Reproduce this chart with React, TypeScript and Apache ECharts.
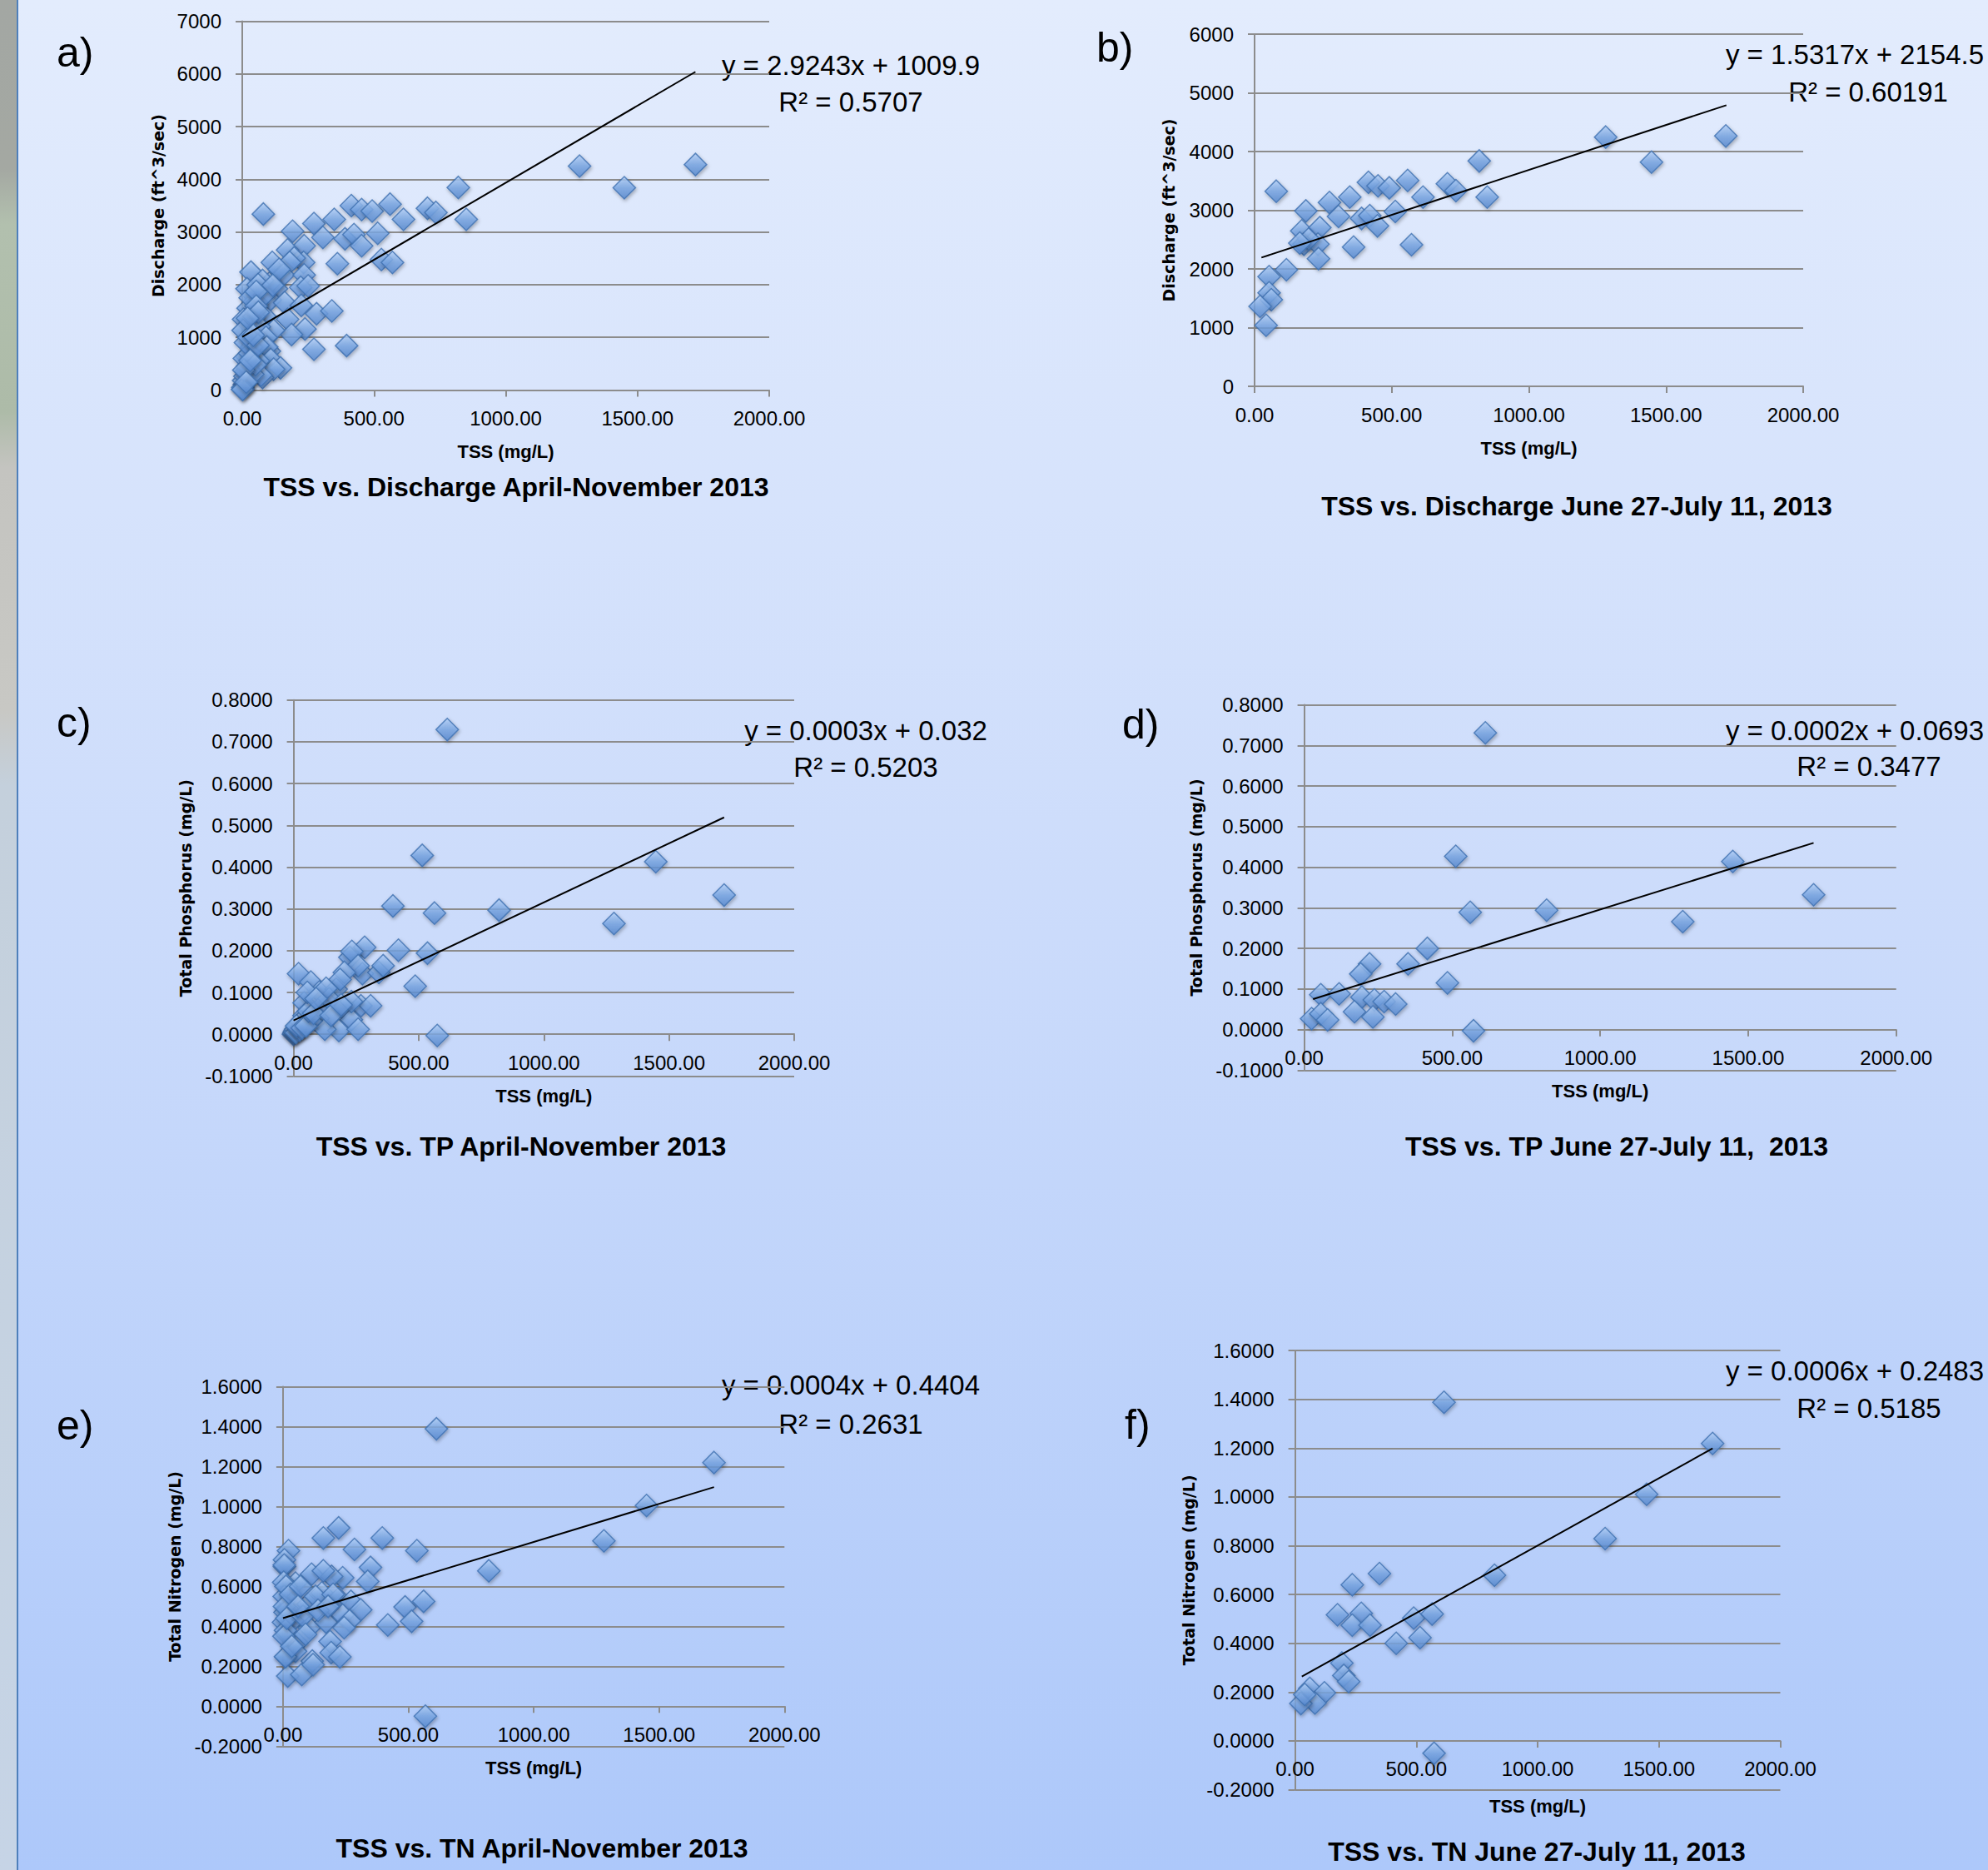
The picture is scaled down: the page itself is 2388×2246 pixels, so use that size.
import React, { useEffect, useRef } from "react";
import * as echarts from "echarts";

const W = 2388;
const H = 2246;

// ---------- data ----------
const xTicks = [0, 500, 1000, 1500, 2000];

const dischargeAll: [number, number][] = [
  [1720, 4280], [1450, 3840], [1280, 4250], [820, 3845], [850, 3240],
  [80, 3340], [414, 3500], [453, 3424], [493, 3397], [561, 3529], [612, 3239], [703, 3450], [735, 3371],
  [272, 3160], [349, 3239], [191, 3013], [306, 2897], [390, 2870], [424, 2950], [453, 2739], [514, 2976],
  [235, 2739], [172, 2660], [361, 2397], [528, 2476], [570, 2423], [233, 2423], [114, 2423], [197, 2506], [180, 2421],
  [33, 2238], [156, 2186], [235, 2186], [18, 1922], [130, 1922], [103, 2028], [222, 1949], [250, 1975], [140, 2291], [77, 2080],
  [106, 1712], [22, 1554], [56, 1659], [161, 1659], [224, 1606], [87, 1396], [172, 1343], [282, 1448], [340, 1501],
  [238, 1159], [187, 1053], [40, 974], [272, 774], [396, 843], [119, 1132], [5, 1343], [3, 1132], [45, 1396], [65, 1200], [90, 1000],
  [18, 632], [103, 737], [93, 816], [108, 579], [145, 421], [119, 395], [77, 237], [8, 105], [61, 553], [35, 816], [71, 280], [21, 405],
  [2, 50], [5, 180], [10, 260], [14, 350], [20, 450], [8, 600], [28, 700], [12, 900], [25, 1000], [40, 300], [50, 480], [60, 850],
  [3, 20], [1, 10], [6, 380], [15, 150], [30, 560], [48, 1500], [30, 1750], [84, 1800], [60, 2000],
  [116, 1986], [53, 1868], [53, 1593], [61, 1475], [20, 1362], [42, 1040],
];

const dischargeJune: [number, number][] = [
  [1280, 4246], [1447, 3820], [1718, 4265], [819, 3839], [848, 3224], [79, 3324], [415, 3475], [450, 3414],
  [491, 3381], [558, 3508], [614, 3224], [703, 3451], [734, 3333], [273, 3130], [347, 3224], [187, 2988],
  [306, 2894], [390, 2860], [420, 2908], [448, 2733], [513, 2979], [172, 2648], [238, 2704], [180, 2421],
  [231, 2421], [233, 2175], [361, 2373], [572, 2411], [116, 1986], [53, 1868], [53, 1593], [61, 1475],
  [20, 1362], [42, 1040], [197, 2506], [165, 2440],
];

const tpAll: [number, number][] = [
  [614, 0.729], [514, 0.428], [1447, 0.413], [1720, 0.333], [1280, 0.265], [821, 0.297], [397, 0.307],
  [563, 0.29], [574, -0.003], [486, 0.115], [419, 0.201], [535, 0.194], [284, 0.208], [225, 0.184],
  [233, 0.198], [275, 0.145], [341, 0.148], [358, 0.164], [258, 0.164], [203, 0.148], [20, 0.145],
  [69, 0.125], [103, 0.101], [170, 0.108], [186, 0.131], [42, 0.075], [114, 0.068], [197, 0.062],
  [269, 0.068], [308, 0.068], [98, 0.038], [231, 0.035], [181, 0.009], [258, 0.012], [125, 0.012],
  [20, 0.019], [0, 0.0], [42, 0.045], [142, 0.085], [231, 0.078], [70, 0.032],
  [1, 0.002], [3, 0.005], [5, 0.008], [8, 0.012], [10, 0.004], [15, 0.018], [25, 0.01], [30, 0.03],
  [12, 0.02], [35, 0.015], [50, 0.02], [60, 0.055], [80, 0.05], [150, 0.045], [190, 0.07], [55, 0.1],
  [130, 0.11], [90, 0.085],
];

const tpJune: [number, number][] = [
  [612, 0.731], [512, 0.427], [561, 0.289], [819, 0.294], [1279, 0.266], [1448, 0.414], [1721, 0.332],
  [416, 0.2], [351, 0.162], [484, 0.115], [572, -0.003], [221, 0.162], [191, 0.137], [56, 0.086],
  [118, 0.088], [195, 0.08], [237, 0.073], [270, 0.069], [309, 0.063], [170, 0.044], [232, 0.031],
  [25, 0.027], [56, 0.039], [79, 0.024],
];

const tnAll: [number, number][] = [
  [612, 1.389], [1719, 1.22], [1450, 1.005], [1280, 0.828], [821, 0.678], [568, -0.05],
  [222, 0.893], [161, 0.842], [396, 0.842], [285, 0.785], [534, 0.779], [22, 0.779], [6, 0.733],
  [349, 0.695], [338, 0.625], [238, 0.643], [194, 0.65], [114, 0.661], [161, 0.678], [50, 0.616], [6, 0.7],
  [155, 0.567], [222, 0.539], [271, 0.525], [310, 0.483], [100, 0.511], [17, 0.49], [39, 0.428], [105, 0.393],
  [172, 0.421], [238, 0.456], [266, 0.428], [244, 0.393], [487, 0.497], [561, 0.525], [513, 0.425], [418, 0.407],
  [17, 0.358], [56, 0.317], [188, 0.324], [192, 0.268], [227, 0.247], [117, 0.226], [12, 0.247], [50, 0.275],
  [19, 0.151], [75, 0.159], [120, 0.208], [10, 0.248], [5, 0.707],
  [3, 0.62], [5, 0.55], [8, 0.47], [2, 0.42], [10, 0.38], [4, 0.35], [6, 0.5], [12, 0.6], [15, 0.44],
  [30, 0.56], [70, 0.6], [80, 0.45], [130, 0.55], [60, 0.5], [140, 0.48], [90, 0.36], [35, 0.3], [200, 0.56], [180, 0.5],
];

const tnJune: [number, number][] = [
  [614, 1.388], [1721, 1.219], [1449, 1.011], [1278, 0.829], [822, 0.679], [348, 0.686], [236, 0.64],
  [175, 0.517], [273, 0.523], [236, 0.474], [309, 0.474], [489, 0.503], [565, 0.52], [515, 0.423],
  [417, 0.4], [193, 0.319], [201, 0.268], [221, 0.243], [61, 0.215], [121, 0.197], [82, 0.155],
  [24, 0.153], [573, -0.051], [40, 0.19],
];

// trendline end points
const trendDischargeAll: [number, number][] = [[0, 1010], [1720, 6040]];
const trendDischargeJune: [number, number][] = [[25, 2193], [1720, 4789]];
const trendTpAll: [number, number][] = [[0, 0.033], [1720, 0.519]];
const trendTpJune: [number, number][] = [[30, 0.075], [1721, 0.46]];
const trendTnAll: [number, number][] = [[0, 0.441], [1719, 1.097]];
const trendTnJune: [number, number][] = [[28, 0.264], [1721, 1.199]];

const letters = ["a)", "b)", "c)", "d)", "e)", "f)"];
const titles = [
  "TSS vs. Discharge April-November 2013",
  "TSS vs. Discharge June 27-July 11, 2013",
  "TSS vs. TP April-November 2013",
  "TSS vs. TP June 27-July 11,  2013",
  "TSS vs. TN April-November 2013",
  "TSS vs. TN June 27-July 11, 2013",
];
const equations = [
  "y = 2.9243x + 1009.9",
  "y = 1.5317x + 2154.5",
  "y = 0.0003x + 0.032",
  "y = 0.0002x + 0.0693",
  "y = 0.0004x + 0.4404",
  "y = 0.0006x + 0.2483",
];
const rSquared = ["R² = 0.5707", "R² = 0.60191", "R² = 0.5203", "R² = 0.3477", "R² = 0.2631", "R² = 0.5185"];
const yNames = [
  "Discharge (ft^3/sec)",
  "Discharge (ft^3/sec)",
  "Total Phosphorus (mg/L)",
  "Total Phosphorus (mg/L)",
  "Total Nitrogen (mg/L)",
  "Total Nitrogen (mg/L)",
];
const xName = "TSS (mg/L)";
const yRanges: [number, number, number, number][] = [
  // min, max, interval, decimals
  [0, 7000, 1000, 0],
  [0, 6000, 1000, 0],
  [-0.1, 0.8, 0.1, 4],
  [-0.1, 0.8, 0.1, 4],
  [-0.2, 1.6, 0.2, 4],
  [-0.2, 1.6, 0.2, 4],
];
const pointSets = [dischargeAll, dischargeJune, tpAll, tpJune, tnAll, tnJune];
const trendSets = [trendDischargeAll, trendDischargeJune, trendTpAll, trendTpJune, trendTnAll, trendTnJune];

// ---------- layout ----------
const grids = [
  { left: 291, top: 25.5, width: 633, height: 443 },
  { left: 1507, top: 41, width: 659, height: 423 },
  { left: 352.6, top: 840.7, width: 601.4, height: 451.7 },
  { left: 1566.6, top: 846.6, width: 711.1, height: 438.8 },
  { left: 339.9, top: 1665.5, width: 602.4, height: 431.8 },
  { left: 1555.6, top: 1622.2, width: 582.9, height: 527.3 },
];
const yNameGaps = [92, 94, 120, 120, 120, 118];
const xNameGaps = [63, 63, 63, 63, 63, 68];
const letterPos = [[68, 63], [1317, 57], [68, 868], [1348, 870], [68, 1712], [1351, 1711]];
const titlePos = [[620, 585], [1894, 608], [626, 1377], [1942, 1377], [651, 2220], [1846, 2224]];
// [x of equation, x of R², y of equation, y of R²]
const eqPos = [
  [1022, 1022, 78, 122],
  [2228, 2244, 65, 110],
  [1040, 1040, 877, 921],
  [2228, 2245, 877, 920],
  [1022, 1022, 1663, 1710],
  [2228, 2245, 1646, 1691],
];

const FONT = "'Liberation Sans', Arial, sans-serif";
const FONT_Y = "'DejaVu Sans', Verdana, sans-serif";
const GRAY = "#8c8c8c";

function buildOption() {
  const lineStyle = { color: GRAY, width: 2 };
  const markerColor = new echarts.graphic.LinearGradient(0, 0, 0, 1, [
    { offset: 0, color: "#b4d1f8" },
    { offset: 0.5, color: "#78a6e4" },
    { offset: 1, color: "#5487cf" },
  ]);

  const grid: any[] = [];
  const xAxis: any[] = [];
  const yAxis: any[] = [];
  const series: any[] = [];
  const graphic: any[] = [];

  graphic.push({
    type: "rect",
    z: -100,
    silent: true,
    shape: { x: 0, y: 0, width: W, height: H },
    style: {
      fill: new echarts.graphic.LinearGradient(0, 0, 0, 1, [
        { offset: 0, color: "#e3ecfd" },
        { offset: 0.5, color: "#cbdbfb" },
        { offset: 1, color: "#adc8fa" },
      ]),
    },
  });
  graphic.push({
    type: "rect",
    z: -99,
    silent: true,
    shape: { x: 0, y: 0, width: 20, height: H },
    style: {
      fill: new echarts.graphic.LinearGradient(0, 0, 0, 1, [
        { offset: 0, color: "#a3a7a3" },
        { offset: 0.09, color: "#a4a8a2" },
        { offset: 0.12, color: "#b2c0ae" },
        { offset: 0.22, color: "#adbba8" },
        { offset: 0.25, color: "#c4c4c0" },
        { offset: 0.38, color: "#c8c8c4" },
        { offset: 0.42, color: "#c4d0dc" },
        { offset: 1, color: "#c6d4e6" },
      ]),
    },
  });
  graphic.push({
    type: "rect",
    z: -98,
    silent: true,
    shape: { x: 20, y: 0, width: 2, height: H },
    style: { fill: "#4f80bb" },
  });

  for (let i = 0; i < 6; i++) {
    const [yMin, yMax, yInt, yDec] = yRanges[i];
    const g = grids[i];
    // move the x axis (line, ticks, labels, name) up to the y = 0 line
    const zeroOffset = -(g.height * (0 - yMin)) / (yMax - yMin);
    grid.push({ ...g, containLabel: false, outerBoundsMode: "none" });
    xAxis.push({
      type: "value",
      gridIndex: i,
      position: "bottom",
      offset: zeroOffset,
      min: xTicks[0],
      max: xTicks[xTicks.length - 1],
      interval: xTicks[1] - xTicks[0],
      name: xName,
      nameLocation: "middle",
      nameGap: xNameGaps[i],
      nameTextStyle: { fontFamily: FONT, fontWeight: "bold", fontSize: 22, color: "#000" },
      axisLine: { show: true, onZero: false, lineStyle },
      axisTick: { show: true, length: 8, lineStyle },
      axisLabel: {
        margin: 22,
        fontFamily: FONT,
        fontSize: 24,
        color: "#000",
        formatter: (v: number) => v.toFixed(2),
      },
      splitLine: { show: false },
    });
    yAxis.push({
      type: "value",
      gridIndex: i,
      min: yMin,
      max: yMax,
      interval: yInt,
      name: yNames[i],
      nameLocation: "middle",
      nameGap: yNameGaps[i],
      nameTextStyle: { fontFamily: FONT_Y, fontWeight: "bold", fontSize: 19, color: "#000" },
      axisLine: { show: true, onZero: false, lineStyle },
      axisTick: { show: true, length: 8, lineStyle },
      axisLabel: {
        margin: 25,
        fontFamily: FONT,
        fontSize: 24,
        color: "#000",
        formatter: (v: number) => v.toFixed(yDec),
      },
      splitLine: { show: true, lineStyle },
    });
    series.push({
      type: "scatter",
      xAxisIndex: i,
      yAxisIndex: i,
      symbol: "diamond",
      symbolSize: 27,
      data: pointSets[i],
      itemStyle: {
        color: markerColor,
        borderColor: "#3f70b0",
        borderWidth: 1.5,
        shadowBlur: 4,
        shadowColor: "rgba(0,0,0,0.35)",
        shadowOffsetX: 1,
        shadowOffsetY: 2,
      },
      z: 2,
    });
    series.push({
      type: "line",
      xAxisIndex: i,
      yAxisIndex: i,
      data: trendSets[i],
      symbol: "none",
      showSymbol: false,
      silent: true,
      lineStyle: { color: "#000", width: 2 },
      z: 3,
    });

    graphic.push({
      type: "text",
      x: letterPos[i][0],
      y: letterPos[i][1],
      silent: true,
      style: { text: letters[i], fontFamily: FONT, fontSize: 50, fill: "#000", align: "left", verticalAlign: "middle" },
    });
    graphic.push({
      type: "text",
      x: titlePos[i][0],
      y: titlePos[i][1],
      silent: true,
      style: { text: titles[i], fontFamily: FONT, fontWeight: "bold", fontSize: 32, fill: "#000", align: "center", verticalAlign: "middle" },
    });
    graphic.push({
      type: "text",
      x: eqPos[i][0],
      y: eqPos[i][2],
      silent: true,
      style: { text: equations[i], fontFamily: FONT, fontSize: 33, fill: "#000", align: "center", verticalAlign: "middle" },
    });
    graphic.push({
      type: "text",
      x: eqPos[i][1],
      y: eqPos[i][3],
      silent: true,
      style: { text: rSquared[i], fontFamily: FONT, fontSize: 33, fill: "#000", align: "center", verticalAlign: "middle" },
    });
  }

  return {
    animation: false,
    backgroundColor: "transparent",
    grid,
    xAxis,
    yAxis,
    series,
    graphic,
  };
}

export default function App() {
  const ref = useRef<HTMLDivElement>(null);
  useEffect(() => {
    if (!ref.current) return;
    const chart = echarts.init(ref.current, null, { renderer: "svg", width: W, height: H });
    chart.setOption(buildOption() as any);
    return () => {
      chart.dispose();
    };
  }, []);
  return <div ref={ref} style={{ position: "absolute", left: 0, top: 0, width: W, height: H }} />;
}
